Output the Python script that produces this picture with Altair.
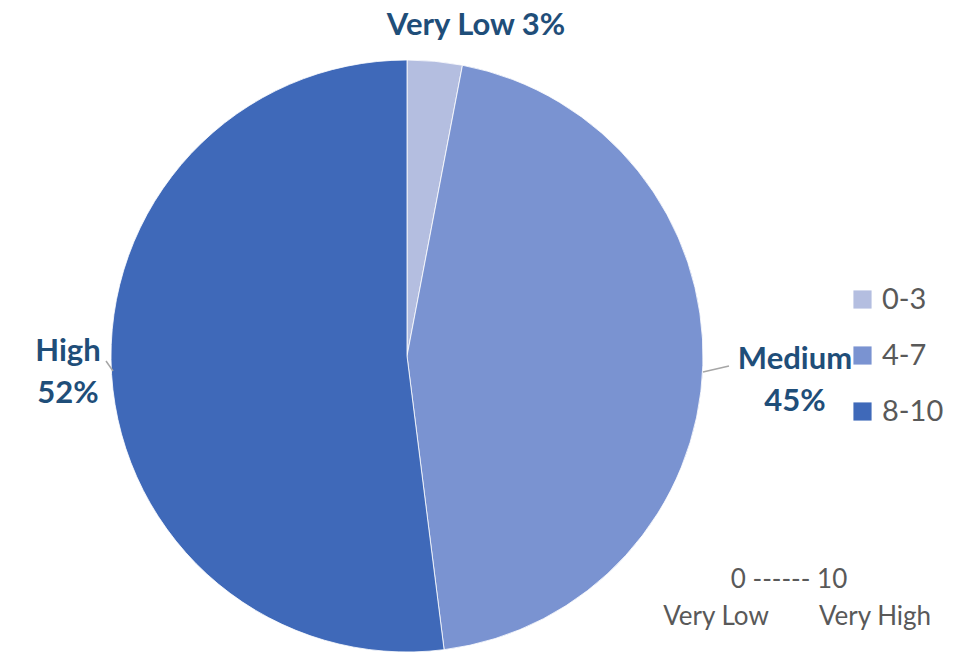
import altair as alt
import pandas as pd

categories = ["0-3", "4-7", "8-10"]
names = ["Very Low", "Medium", "High"]
shares = [3, 45, 52]
colors = ["#B4BEE0", "#7A93D1", "#3F69B9"]

df = pd.DataFrame({"cat": categories, "name": names, "share": shares, "order": [0, 1, 2]})

CX, CY, R = 407, 356, 296
LABEL_COLOR = "#1F4E79"
FONT = "Lato"

base = alt.Chart(df)

pie = base.mark_arc(radius=R, stroke="white", strokeWidth=0.8).encode(
    theta=alt.Theta("share:Q", stack=True),
    order=alt.Order("order:Q"),
    color=alt.Color(
        "cat:N",
        scale=alt.Scale(domain=categories, range=colors),
        legend=alt.Legend(
            title=None,
            orient="none",
            legendX=848,
            legendY=285,
            symbolType="square",
            symbolSize=330,
            symbolStrokeWidth=0,
            labelFontSize=29,
            labelFont=FONT,
            labelColor="#595959",
            rowPadding=26,
            labelOffset=5,
        ),
    ),
    x=alt.value(CX),
    y=alt.value(CY),
)

def txt(lines, x, y, size=31, bold=True, color=LABEL_COLOR, align="center"):
    return alt.Chart(pd.DataFrame({"t": [lines]})).mark_text(
        fontSize=size, font=FONT, fontWeight="bold" if bold else "normal",
        color=color, align=align, baseline="middle", lineHeight=42,
    ).encode(text="t:N", x=alt.value(x), y=alt.value(y))

t_vl = txt(f"{names[0]} {shares[0]}%", 476, 26)
t_med = txt([names[1], f"{shares[1]}%"], 795, 360)
t_high = txt([names[2], f"{shares[2]}%"], 68, 352)

lead1 = alt.Chart(pd.DataFrame({"a": [0]})).mark_rule(color="#A6A6A6", strokeWidth=1.5).encode(
    x=alt.value(703), x2=alt.value(729), y=alt.value(372), y2=alt.value(366))
lead2 = alt.Chart(pd.DataFrame({"a": [0]})).mark_rule(color="#A6A6A6", strokeWidth=1.5).encode(
    x=alt.value(106), x2=alt.value(113), y=alt.value(361), y2=alt.value(371))

note1 = txt("0 ------ 10", 789, 580, size=26, bold=False, color="#595959")
note2a = txt("Very Low", 716, 617, size=26, bold=False, color="#595959")
note2b = txt("Very High", 875, 617, size=26, bold=False, color="#595959")

chart = alt.layer(pie, lead1, lead2, t_vl, t_med, t_high, note1, note2a, note2b).properties(
    width=958, height=656, padding=0, autosize=alt.AutoSizeParams(type="none"),
    background="white",
).configure_view(stroke=None)

chart.save("out.html", embed_options={"renderer": "svg", "actions": False})
